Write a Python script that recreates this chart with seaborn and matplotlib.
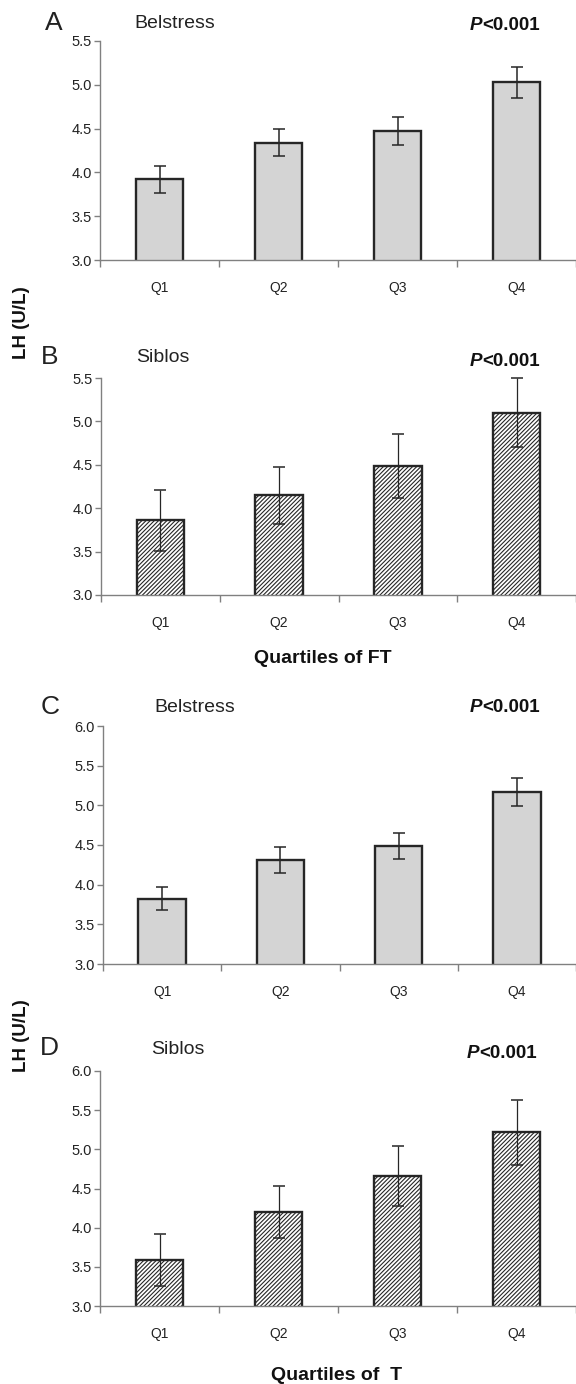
import numpy as np
import pandas as pd
import matplotlib
matplotlib.use("Agg")
import matplotlib.pyplot as plt
import seaborn as sns


# ----------------------------
# Data
# ----------------------------

quartiles = ["Q1", "Q2", "Q3", "Q4"]

ft_belstress = [3.92, 4.34, 4.47, 5.03]
ft_belstress_err = [0.155, 0.155, 0.16, 0.175]

ft_siblos = [3.86, 4.15, 4.49, 5.10]
ft_siblos_err = [0.35, 0.33, 0.37, 0.40]

t_belstress = [3.82, 4.31, 4.49, 5.17]
t_belstress_err = [0.145, 0.165, 0.165, 0.18]

t_siblos = [3.59, 4.20, 4.66, 5.22]
t_siblos_err = [0.33, 0.335, 0.38, 0.415]

panel_letters = ["A", "B", "C", "D"]
cohorts = ["Belstress", "Siblos", "Belstress", "Siblos"]
p_text = "<0.001"


# ----------------------------
# Style
# ----------------------------

sns.set_style("ticks")
plt.rcParams['font.family'] = ['Liberation Sans', 'DejaVu Sans']
plt.rcParams['hatch.linewidth'] = 0.8

W, H = 576, 1384
fig = plt.figure(figsize=(W / 100, H / 100), dpi=100)


def fx(px):
    return px / W


def fy(py):
    return 1 - py / H


# axes boxes in pixels: left, top (ylim max), bottom (ylim min)
boxes = [
    (100, 41, 260),
    (101, 378, 595),
    (103, 726, 964),
    (100, 1071, 1306),
]
ylims = [(3.0, 5.5), (3.0, 5.5), (3.0, 6.0), (3.0, 6.0)]
values = [ft_belstress, ft_siblos, t_belstress, t_siblos]
errors = [ft_belstress_err, ft_siblos_err, t_belstress_err, t_siblos_err]
hatched = [False, True, False, True]

# label positions (pixels): letter center x, y; title left x, y; P right x, y
letter_pos = [(54, 23), (50, 357), (50, 707), (49, 1048)]
title_pos = [(134, 24), (136, 358), (154, 707), (151, 1050)]
p_pos = [(540, 25), (540, 361), (540, 708), (537, 1053)]

spine_col = "#808080"
edge_col = "#262626"

fig.canvas.draw()
renderer = fig.canvas.get_renderer()

for i in range(4):
    left, top, bottom = boxes[i]
    ax = fig.add_axes([fx(left), fy(bottom), fx(W - left), (bottom - top) / H])

    df = pd.DataFrame({"quartile": quartiles, "lh": values[i]})
    sns.barplot(data=df, x="quartile", y="lh", width=0.4, ax=ax,
                color="white" if hatched[i] else "#d4d4d4",
                edgecolor=edge_col, linewidth=1.7, saturation=1)
    if hatched[i]:
        for bar in ax.patches:
            bar.set_facecolor("white")
            bar.set_hatch("////////")

    ax.errorbar(np.arange(4), values[i], yerr=errors[i], fmt="none",
                ecolor=edge_col, elinewidth=1.1 if not hatched[i] else 0.9,
                capsize=4.5, capthick=1.1, zorder=5, clip_on=False)

    ax.set_xlim(-0.5, 3.5)
    ax.set_ylim(*ylims[i])
    ax.set_yticks(np.arange(ylims[i][0], ylims[i][1] + 0.01, 0.5))
    ax.set_yticklabels([f"{v:.1f}" for v in ax.get_yticks()])
    ax.set_xlabel("")
    ax.set_ylabel("")

    # category boundaries as ticks, labels on majors
    ax.set_xticks(np.arange(4))
    ax.set_xticks(np.arange(-0.5, 3.6, 1.0), minor=True)
    ax.tick_params(axis="x", which="major", length=0, pad=15,
                   labelsize=10, labelcolor="#222222")
    ax.tick_params(axis="x", which="minor", length=5, width=1,
                   color=spine_col, direction="out")
    ax.tick_params(axis="y", length=4, width=1, color=spine_col,
                   labelsize=10.5, labelcolor="#222222", pad=2)

    sns.despine(ax=ax)
    for s in ["left", "bottom"]:
        ax.spines[s].set_color(spine_col)
        ax.spines[s].set_linewidth(1)
    ax.patch.set_alpha(0)

    # panel letter, cohort name, P value
    fig.text(fx(letter_pos[i][0]), fy(letter_pos[i][1]), panel_letters[i],
             fontsize=19, ha="center", va="center", color="#222222")
    fig.text(fx(title_pos[i][0]), fy(title_pos[i][1]), cohorts[i],
             fontsize=14, ha="left", va="center", color="#222222")
    t = fig.text(fx(p_pos[i][0]), fy(p_pos[i][1]), p_text, fontsize=13.5,
                 fontweight="bold", ha="right", va="center", color="#111111")
    bb = t.get_window_extent(renderer=renderer)
    fig.text(bb.x0 / W, fy(p_pos[i][1]), "P", fontsize=13.5,
             fontweight="bold", fontstyle="italic", ha="right", va="center",
             color="#111111")


# ----------------------------
# Shared axis titles
# ----------------------------

fig.text(fx(22), fy(323), "LH (U/L)", rotation=90, fontsize=13.5,
         fontweight="bold", ha="center", va="center", color="#111111")
fig.text(fx(22), fy(1036), "LH (U/L)", rotation=90, fontsize=13.5,
         fontweight="bold", ha="center", va="center", color="#111111")
fig.text(fx(323), fy(658), "Quartiles of FT", fontsize=14,
         fontweight="bold", ha="center", va="center", color="#111111")
fig.text(fx(337), fy(1375), "Quartiles of  T", fontsize=14,
         fontweight="bold", ha="center", va="center", color="#111111")

plt.savefig("out.png", dpi=100)
plt.close()
